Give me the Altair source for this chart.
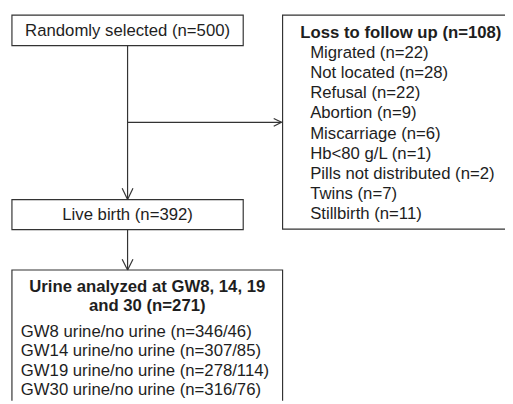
import altair as alt
import pandas as pd

# ---- data (labels and counts) ----
top_label = "Randomly selected"
top_n = 500
live_label = "Live birth"
live_n = 392
loss_title = "Loss to follow up"
loss_n = 108
loss_reasons = ["Migrated", "Not located", "Refusal", "Abortion", "Miscarriage",
                "Hb<80 g/L", "Pills not distributed", "Twins", "Stillbirth"]
loss_counts = [22, 28, 22, 9, 6, 1, 2, 7, 11]
urine_title = ["Urine analyzed at GW8, 14, 19", "and 30 (n=271)"]
gw_weeks = [8, 14, 19, 30]
gw_urine = [346, 307, 278, 316]
gw_no_urine = [46, 85, 114, 76]

# ---- layout (pixel coordinates of the image) ----
W, H = 505, 396
FONT = "Liberation Sans"
FS = 17
LC = "#333333"
TC = "#1e1e1e"
cx = 129.5

boxes = pd.DataFrame([
    dict(x=12, x2=247, y=12, y2=43),
    dict(x=12, x2=247, y=199.5, y2=230),
    dict(x=12, x2=287, y=271, y2=420),
    dict(x=287, x2=530, y=12, y2=229.5),
])

segs = [
    (cx, 43, cx, 199.5),
    (cx, 121, 286, 121),
    (cx, 230, cx, 271),
    # arrowheads
    (cx - 5.5, 188, cx, 199.5), (cx + 5.5, 188, cx, 199.5),
    (cx - 5.5, 260, cx, 271), (cx + 5.5, 260, cx, 271),
    (278, 117, 286, 121), (278, 125, 286, 121),
]
lines = pd.DataFrame(segs, columns=["x", "y", "x2", "y2"])

center_plain = pd.DataFrame([
    dict(x=cx, y=28, t=f"{top_label} (n={top_n})"),
    dict(x=cx, y=215, t=f"{live_label} (n={live_n})"),
])
center_bold = pd.DataFrame([
    dict(x=149.5, y=288, t=urine_title[0]),
    dict(x=149.5, y=308, t=urine_title[1]),
])
left_bold = pd.DataFrame([dict(x=305, y=30, t=f"{loss_title} (n={loss_n})")])

left_rows = []
for i, (r, c) in enumerate(zip(loss_reasons, loss_counts)):
    left_rows.append(dict(x=315, y=30 + 20.5 * (i + 1), t=f"{r} (n={c})"))
for i, (g, u, nu) in enumerate(zip(gw_weeks, gw_urine, gw_no_urine)):
    left_rows.append(dict(x=21, y=334 + 19.7 * i, t=f"GW{g} urine/no urine (n={u}/{nu})"))
left_plain = pd.DataFrame(left_rows)

xs = alt.Scale(domain=[8, 8 + W], nice=False, zero=False)
ys = alt.Scale(domain=[8, 8 + H], nice=False, zero=False, reverse=True)

rects = alt.Chart(boxes).mark_rect(fill="white", stroke=LC, strokeWidth=1.2, clip=True).encode(
    x=alt.X("x:Q", scale=xs, axis=None), x2="x2:Q",
    y=alt.Y("y:Q", scale=ys, axis=None), y2="y2:Q",
)

rules = alt.Chart(lines).mark_rule(color=LC, strokeWidth=1.2, clip=True).encode(
    x=alt.X("x:Q", scale=xs, axis=None), x2="x2:Q",
    y=alt.Y("y:Q", scale=ys, axis=None), y2="y2:Q",
)

def text_layer(df, align, weight):
    return alt.Chart(df).mark_text(align=align, baseline="middle", font=FONT,
                                   fontSize=FS, color=TC, fontWeight=weight, clip=True).encode(
        x=alt.X("x:Q", scale=xs, axis=None),
        y=alt.Y("y:Q", scale=ys, axis=None),
        text="t:N",
    )

chart = alt.layer(
    rects, rules,
    text_layer(center_plain, "center", "normal"),
    text_layer(center_bold, "center", "bold"),
    text_layer(left_bold, "left", "bold"),
    text_layer(left_plain, "left", "normal"),
).properties(
    width=W, height=H, padding=0, autosize=alt.AutoSizeParams(type="none")
).configure_view(stroke=None)

chart.save("out.html", embed_options={"renderer": "svg", "actions": False})
